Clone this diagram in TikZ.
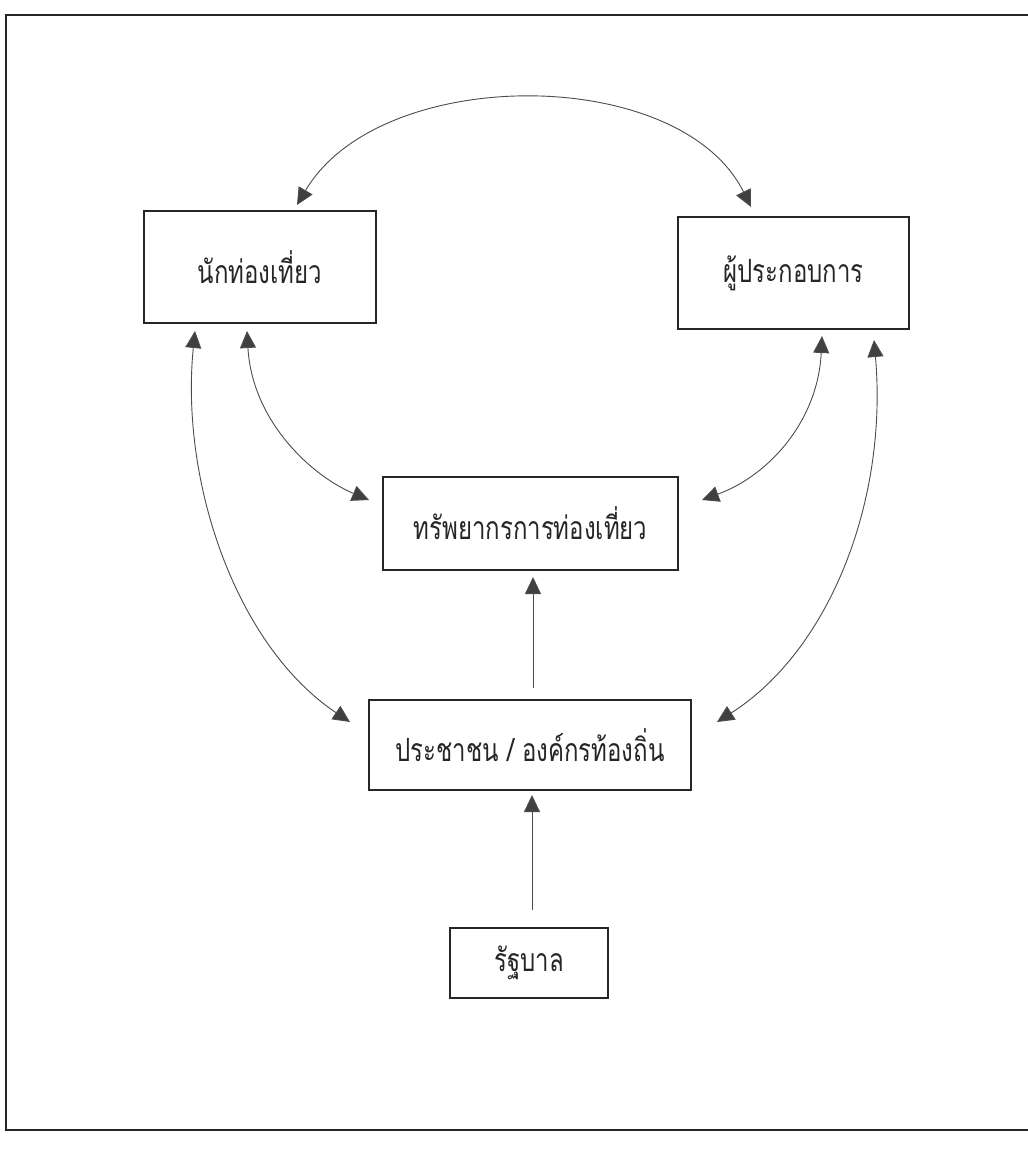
\documentclass[tikz,border=0pt]{standalone}
\usepackage{fontspec}
\newfontfamily\thaifont[Script=Thai,FakeStretch=0.75]{Loma}
\usetikzlibrary{arrows.meta}
\tikzset{
  box/.style={draw=black!85, line width=1.4pt, rectangle, inner sep=0pt, font=\thaifont\fontsize{32}{36}\selectfont, text=black!85},
  link/.style={draw=black!70, line width=0.9pt},
  tip/.style={-{Triangle[length=17pt,width=16pt,fill=black!75]}},
  tips/.style={{Triangle[length=17pt,width=16pt,fill=black!75]}-{Triangle[length=17pt,width=16pt,fill=black!75]}},
}
\begin{document}
\begin{tikzpicture}[x=1pt,y=-1pt]
\useasboundingbox (0,0) rectangle (1028,1152);
\clip (0,0) rectangle (1028,1152);
\fill[white] (0,0) rectangle (1028,1152);
% outer frame
\draw[black!85, line width=2pt] (1040,15) -- (6,15) -- (6,1130) -- (1040,1130);
% boxes
\node[box, minimum width=232pt, minimum height=112pt] (A) at (260,267) {นักท่องเที่ยว};
\node[box, minimum width=231pt, minimum height=112pt] (B) at (793.5,273) {ผู้ประกอบการ};
\node[box, minimum width=295pt, minimum height=93pt] (C) at (530.5,523.5) {ทรัพยากรการท่องเที่ยว};
\node[box, minimum width=322pt, minimum height=90pt] (D) at (530,745) {ประชาชน / องค์กรท้องถิ่น};
\node[box, minimum width=158pt, minimum height=70pt] (E) at (529,963) {รัฐบาล};
% arrow end points
\coordinate (a1) at (297,205);
\coordinate (b1) at (751,207);
\coordinate (a2) at (195,331);
\coordinate (a3) at (247,331);
\coordinate (b2) at (822,336);
\coordinate (b3) at (874,340);
\coordinate (c1) at (369,500);
\coordinate (c2) at (702,500);
\coordinate (c3) at (533,577);
\coordinate (d1) at (350,722);
\coordinate (d2) at (717,722);
\coordinate (d3) at (532,795);
\coordinate (dt) at (533,688);
\coordinate (et) at (532,910);
% connectors
\draw[link, tips] (a1) .. controls (380,64) and (680,64) .. (b1);
\draw[link, tips] (a3) .. controls (252,420) and (310,475) .. (c1);
\draw[link, tips] (a2) .. controls (180,480) and (235,645) .. (d1);
\draw[link, tips] (b2) .. controls (818,420) and (770,475) .. (c2);
\draw[link, tips] (b3) .. controls (888,500) and (830,650) .. (d2);
\draw[link, tip] (dt) -- (c3);
\draw[link, tip] (et) -- (d3);
\end{tikzpicture}
\end{document}
